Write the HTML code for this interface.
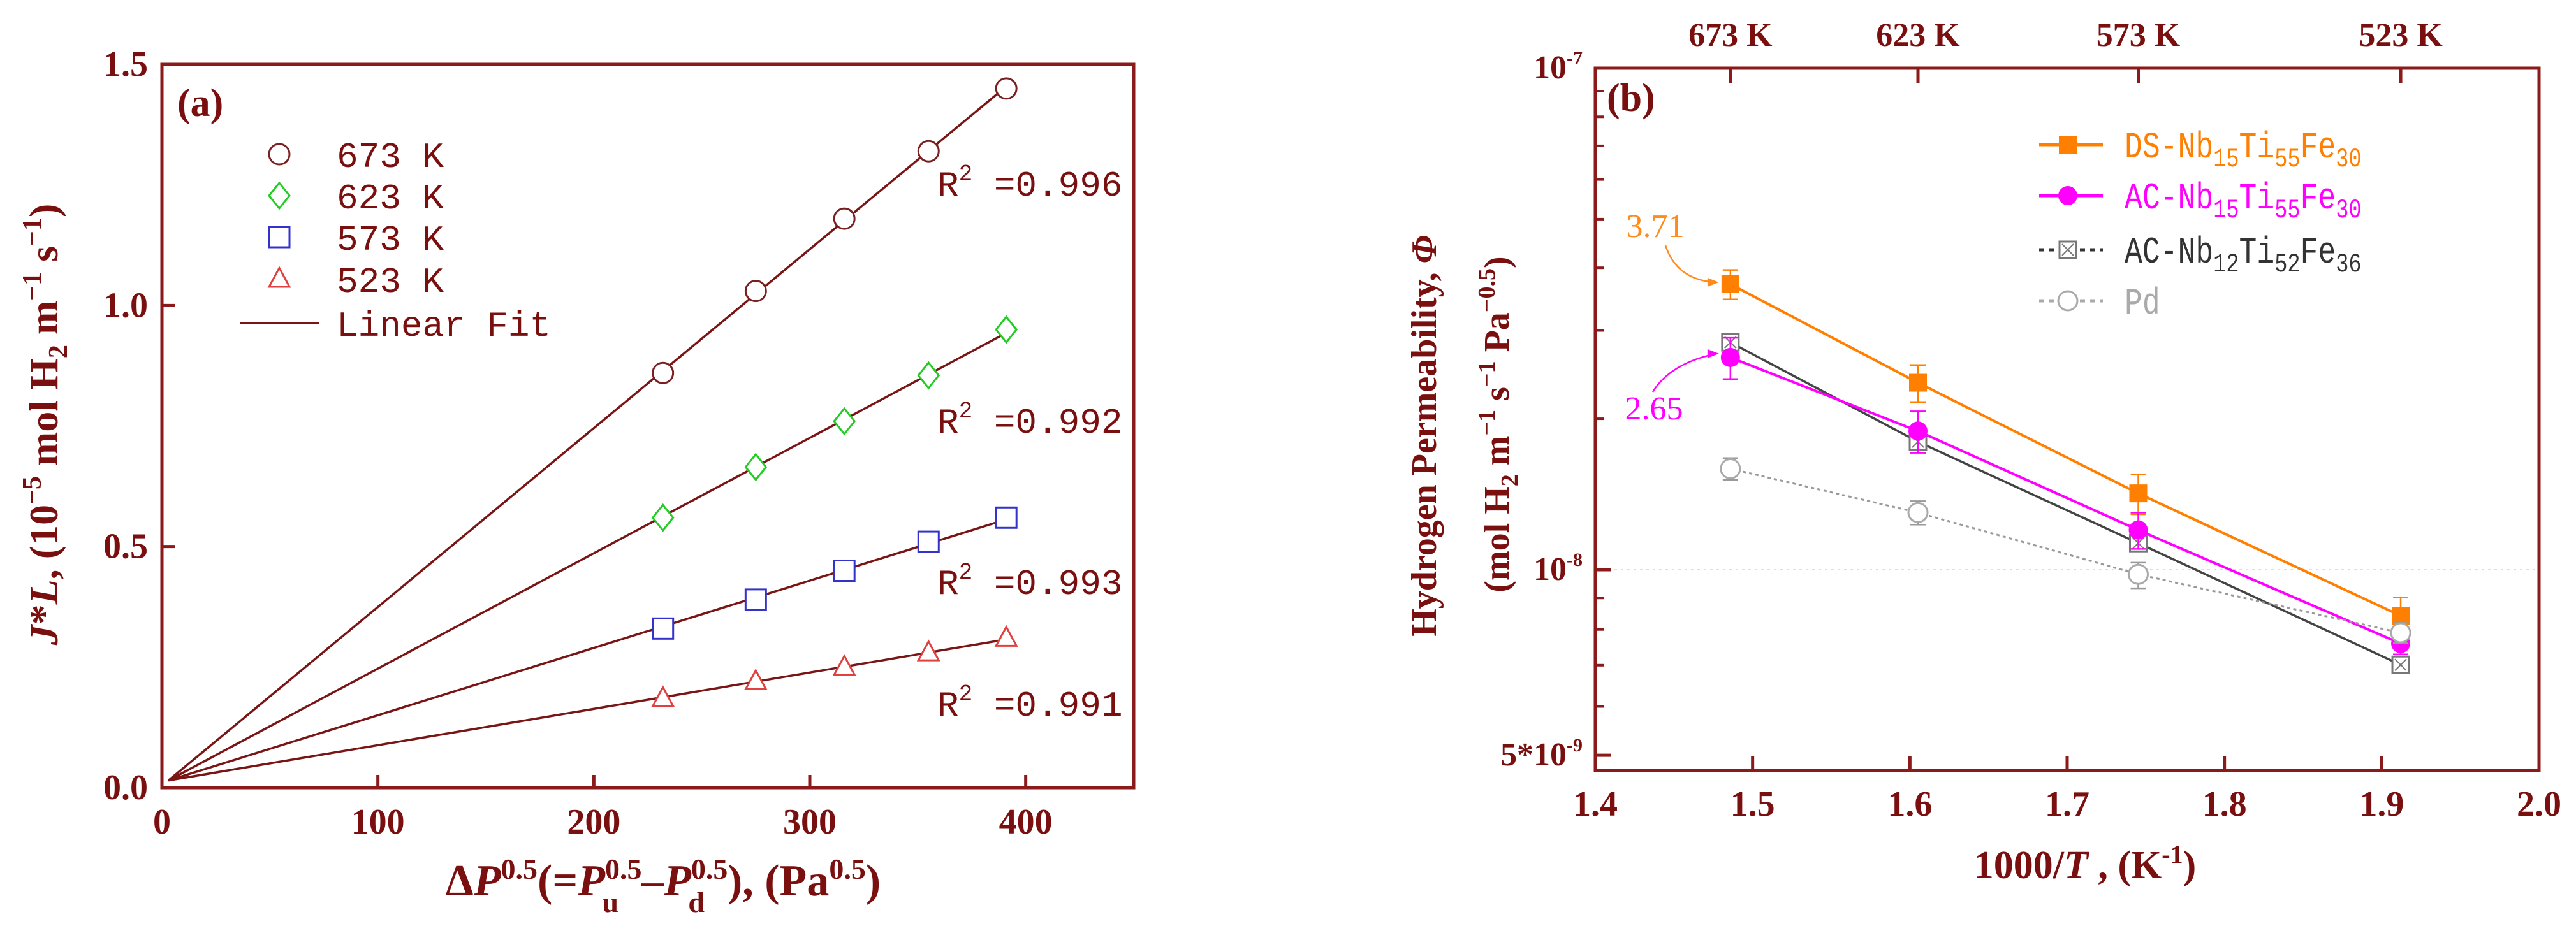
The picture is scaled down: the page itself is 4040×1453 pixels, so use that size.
<!DOCTYPE html>
<html><head><meta charset="utf-8"><style>
html,body{margin:0;padding:0;background:#fff;}
svg{display:block;}
text{font-family:"Liberation Serif",serif;}
.mono{font-family:"Liberation Mono",monospace;}
</style></head><body>
<svg id="fig" width="4040" height="1453" viewBox="0 0 4040 1453" xmlns="http://www.w3.org/2000/svg">
<g id="pa"></g>
<g id="pb"></g>
</svg>
<script>
// ===== Panel (a) data =====
const aXTicks = [0,100,200,300,400];
const aYTicks = [0.0,0.5,1.0,1.5];
const aYTickLabels = ["0.0","0.5","1.0","1.5"];
const aX = [232,275,316,355,391];
const a673 = [0.86,1.03,1.18,1.32,1.45];
const a623 = [0.56,0.665,0.76,0.855,0.95];
const a573 = [0.33,0.39,0.45,0.51,0.56];
const a523 = [0.185,0.22,0.25,0.28,0.31];
const aR2 = ["0.996","0.992","0.993","0.991"];
const aOrigin = [3,0.015];

// ===== Panel (b) data =====
const bXTicks = [1.4,1.5,1.6,1.7,1.8,1.9,2.0];
const bXTickLabels = ["1.4","1.5","1.6","1.7","1.8","1.9","2.0"];
const bTemps = [673,623,573,523];
const bTopLabels = ["673 K","623 K","573 K","523 K"];
const bDS = [3.71e-8,2.36e-8,1.42e-8,8.42e-9];
const bDSerr = [0.25e-8,0.2e-8,0.13e-8,0.6e-9];
const bAC15 = [2.65e-8,1.89e-8,1.20e-8,7.59e-9];
const bAC15err = [0.25e-8,0.18e-8,0.1e-8,0.3e-9];
const bAC12 = [2.84e-8,1.80e-8,1.13e-8,7.01e-9];
const bPd = [1.59e-8,1.30e-8,9.83e-9,7.90e-9];
const bPdErr = [0.08e-8,0.07e-8,0.05e-8,0.3e-9];

const NS="http://www.w3.org/2000/svg";
function mk(parent,tag,attrs,txt){const e=document.createElementNS(NS,tag);for(const k in attrs)e.setAttribute(k,attrs[k]);if(txt!==undefined)e.textContent=txt;parent.appendChild(e);return e;}
const AX="#8b1a1a", TX="#7a0f0f";

// ---------- Panel a ----------
const pa=document.getElementById('pa');
const aL=254,aR=1778,aT=101,aB=1236;
const ax=v=>aL+(v/450)*(aR-aL);
const ay=v=>aB-(v/1.5)*(aB-aT);
let r=mk(pa,'rect',{x:aL,y:aT,width:aR-aL,height:aB-aT,fill:'none',stroke:AX,'stroke-width':5});

aXTicks.forEach(t=>{
  let l=mk(pa,'line',{x1:ax(t),x2:ax(t),y1:aB,y2:aB-20,stroke:AX,'stroke-width':5});
  
  let tx=mk(pa,'text',{x:ax(t),y:aB+72,'text-anchor':'middle','font-size':56,'font-weight':'bold',fill:TX},String(t));
  
});
aYTicks.forEach((t,i)=>{
  let l=mk(pa,'line',{x1:aL,x2:aL+20,y1:ay(t),y2:ay(t),stroke:AX,'stroke-width':5});
  
  let tx=mk(pa,'text',{x:aL-22,y:ay(t)+18,'text-anchor':'end','font-size':56,'font-weight':'bold',fill:TX},aYTickLabels[i]);
  
});
let yt=mk(pa,'text',{x:0,y:0,transform:`translate(90,666) rotate(-90)`,'text-anchor':'middle','font-size':64,'font-weight':'bold',fill:TX});

yt.innerHTML='<tspan font-style="italic">J</tspan>*<tspan font-style="italic">L</tspan>, (10<tspan dy="-26" font-size="42">−5</tspan><tspan dy="26"> mol H</tspan><tspan dy="15" font-size="42">2</tspan><tspan dy="-15"> m</tspan><tspan dy="-26" font-size="42">−1</tspan><tspan dy="26"> s</tspan><tspan dy="-26" font-size="42">−1</tspan><tspan dy="26">)</tspan>';
let xt=mk(pa,'text',{x:1040,y:1405,'text-anchor':'middle','font-size':70,'font-weight':'bold',fill:TX});

xt.innerHTML='Δ<tspan font-style="italic">P</tspan><tspan dy="-26" font-size="46">0.5</tspan><tspan dy="26">(=</tspan><tspan font-style="italic">P</tspan><tspan dy="-26" font-size="46">0.5</tspan><tspan dx="-62" dy="52" font-size="46">u</tspan><tspan dx="36" dy="-26">–</tspan><tspan font-style="italic">P</tspan><tspan dy="-26" font-size="46">0.5</tspan><tspan dx="-62" dy="52" font-size="46">d</tspan><tspan dx="36" dy="-26">), (Pa</tspan><tspan dy="-26" font-size="46">0.5</tspan><tspan dy="26">)</tspan>';
let la=mk(pa,'text',{x:278,y:182,'font-size':62,'font-weight':'bold',fill:TX},'(a)');


function marker(g,type,cx,cy,s,stroke,fill){
  let e;
  if(type==='circle') e=mk(g,'circle',{cx,cy,r:s,fill:fill||'#fff',stroke,'stroke-width':3});
  else if(type==='diamond') e=mk(g,'polygon',{points:`${cx},${cy-s*1.25} ${cx+s},${cy} ${cx},${cy+s*1.25} ${cx-s},${cy}`,fill:fill||'#fff',stroke,'stroke-width':3});
  else if(type==='square') e=mk(g,'rect',{x:cx-s,y:cy-s,width:2*s,height:2*s,fill:fill||'#fff',stroke,'stroke-width':3});
  else e=mk(g,'polygon',{points:`${cx},${cy-s*1.1} ${cx+s},${cy+s*0.75} ${cx-s},${cy+s*0.75}`,fill:fill||'#fff',stroke,'stroke-width':3});
  return e;
}
const aSeries=[[a673,'circle','#7a2020','673 K'],[a623,'diamond','#22cc22','623 K'],[a573,'square','#3333cc','573 K'],[a523,'triangle','#e04040','523 K']];
const r2y=[287,659,912,1103];
aSeries.forEach(([ys,type,col,lab],si)=>{
  const g=mk(pa,'g',{});
  
  let num=0,den=0;aX.forEach((x,i)=>{num+=(x-aOrigin[0])*(ys[i]-aOrigin[1]);den+=(x-aOrigin[0])**2;});
  const k=num/den;const xe=aX[aX.length-1];
  let fl=mk(g,'line',{x1:ax(aOrigin[0]),y1:ay(aOrigin[1]),x2:ax(xe),y2:ay(aOrigin[1]+k*(xe-aOrigin[0])),stroke:'#7a1515','stroke-width':3.5});
  
  aX.forEach((x,i)=>{let m=marker(g,type,ax(x),ay(ys[i]),16,col);});
  let t=mk(pa,'text',{x:1470,y:r2y[si]+20,'font-size':56,fill:TX,class:'mono'});
  
  t.innerHTML='R<tspan dy="-24" font-size="36">2</tspan><tspan dy="24"> =0.'+aR2[si].slice(2)+'</tspan>';
  const ly=[242,307,372,438][si];
  let lm=marker(pa,type,438,ly,16,col);
  let lt=mk(pa,'text',{x:528,y:ly+20,'font-size':56,fill:TX,class:'mono'},lab);
  
});
let ll=mk(pa,'line',{x1:376,x2:500,y1:507,y2:507,stroke:'#7a1515','stroke-width':4});

let lt5=mk(pa,'text',{x:528,y:527,'font-size':56,fill:TX,class:'mono'},'Linear Fit');


// ---------- Panel b ----------
const pb=document.getElementById('pb');
const bL=2502,bR=3982,bT=107,bB=1209;
const bx=v=>bL+(v-1.4)/0.6*(bR-bL);
function by(v){const lg=Math.log10(v)+8;return lg>=0?894-lg*787:894-lg*967;}
const bXv=bTemps.map(T=>1000/T);
let gl=mk(pb,'line',{x1:bL,x2:bR,y1:by(1e-8),y2:by(1e-8),stroke:'#ddd','stroke-width':2,'stroke-dasharray':'4 6'});

let rb=mk(pb,'rect',{x:bL,y:bT,width:bR-bL,height:bB-bT,fill:'none',stroke:AX,'stroke-width':5});

bXTicks.forEach((t,i)=>{
  let l=mk(pb,'line',{x1:bx(t),x2:bx(t),y1:bB,y2:bB-22,stroke:AX,'stroke-width':5});
  
  let tx=mk(pb,'text',{x:bx(t),y:1280,'text-anchor':'middle','font-size':56,'font-weight':'bold',fill:TX},bXTickLabels[i]);
  
});
bXv.forEach((v,i)=>{
  let l=mk(pb,'line',{x1:bx(v),x2:bx(v),y1:bT,y2:bT+24,stroke:AX,'stroke-width':5});
  
  let tx=mk(pb,'text',{x:bx(v),y:72,'text-anchor':'middle','font-size':52,'font-weight':'bold',fill:TX},bTopLabels[i]);
  
});
[2,3,4,5,6,7,8,9].forEach(m=>{let l=mk(pb,'line',{x1:bL,x2:bL+14,y1:by(m*1e-8),y2:by(m*1e-8),stroke:AX,'stroke-width':4});});
[5,6,7,8,9].forEach(m=>{let l=mk(pb,'line',{x1:bL,x2:bL+14,y1:by(m*1e-9),y2:by(m*1e-9),stroke:AX,'stroke-width':4});});
[[1e-7,'10','-7'],[1e-8,'10','-8'],[5e-9,'5*10','-9']].forEach(([v,b,e])=>{
  let l=mk(pb,'line',{x1:bL,x2:bL+24,y1:by(v),y2:by(v),stroke:AX,'stroke-width':5});
  
  let tx=mk(pb,'text',{x:bL-20,y:by(v)+16,'text-anchor':'end','font-size':52,'font-weight':'bold',fill:TX});
  
  tx.innerHTML=b+'<tspan dy="-22" font-size="30">'+e+'</tspan>';
});
let yb1=mk(pb,'text',{x:0,y:0,transform:'translate(2252,684) rotate(-90)','text-anchor':'middle','font-size':56,'font-weight':'bold',fill:TX});

yb1.innerHTML='Hydrogen Permeability, <tspan font-style="italic">Φ</tspan>';
let yb2=mk(pb,'text',{x:0,y:0,transform:'translate(2366,666) rotate(-90)','text-anchor':'middle','font-size':56,'font-weight':'bold',fill:TX});

yb2.innerHTML='(mol H<tspan dy="14" font-size="38">2</tspan><tspan dy="-14"> m</tspan><tspan dy="-22" font-size="38">−1</tspan><tspan dy="22"> s</tspan><tspan dy="-22" font-size="38">−1</tspan><tspan dy="22"> Pa</tspan><tspan dy="-22" font-size="38">−0.5</tspan><tspan dy="22">)</tspan>';
let xbt=mk(pb,'text',{x:3270,y:1378,'text-anchor':'middle','font-size':62,'font-weight':'bold',fill:TX});

xbt.innerHTML='1000/<tspan font-style="italic">T</tspan> , (K<tspan dy="-24" font-size="40">-1</tspan><tspan dy="24">)</tspan>';
let lb=mk(pb,'text',{x:2520,y:174,'font-size':62,'font-weight':'bold',fill:TX},'(b)');


const bSeries=[
 {ys:bDS,err:bDSerr,col:'#ff7f00',type:'fsquare',dash:null,w:4,name:'ds-nb15ti55fe30'},
 {ys:bAC12,err:null,col:'#444',type:'xsquare',dash:null,w:3.5,name:'ac-nb12ti52fe36'},
 {ys:bAC15,err:bAC15err,col:'#ff00ff',type:'fcircle',dash:null,w:4,name:'ac-nb15ti55fe30'},
 {ys:bPd,err:bPdErr,col:'#999',type:'ocircle',dash:'5 5',w:3,name:'pd'}];
function bmarker(g,type,cx,cy,col){
  if(type==='fsquare') mk(g,'rect',{x:cx-14,y:cy-14,width:28,height:28,fill:col});
  else if(type==='fcircle') mk(g,'circle',{cx,cy,r:15,fill:col});
  else if(type==='ocircle') mk(g,'circle',{cx,cy,r:15,fill:'#fff',stroke:'#aaa','stroke-width':3});
  else {mk(g,'rect',{x:cx-13,y:cy-13,width:26,height:26,fill:'#fff',stroke:'#777','stroke-width':3});
        mk(g,'path',{d:`M${cx-9},${cy-9}L${cx+9},${cy+9}M${cx+9},${cy-9}L${cx-9},${cy+9}`,stroke:'#777','stroke-width':2});}
}
bSeries.forEach(s=>{
  const g=mk(pb,'g',{});
  
  const pts=bXv.map((x,i)=>bx(x)+','+by(s.ys[i])).join(' ');
  const a={points:pts,fill:'none',stroke:s.col,'stroke-width':s.w};if(s.dash)a['stroke-dasharray']=s.dash;
  let pl=mk(g,'polyline',a);
  bXv.forEach((x,i)=>{
    if(s.err){const y1=by(s.ys[i]+s.err[i]),y2=by(s.ys[i]-s.err[i]),cx=bx(x);
      let eb=mk(g,'path',{d:`M${cx},${y1}L${cx},${y2}M${cx-12},${y1}L${cx+12},${y1}M${cx-12},${y2}L${cx+12},${y2}`,stroke:s.col,'stroke-width':2.5,fill:'none'});
      }
    const mg=mk(g,'g',{});
    bmarker(mg,s.type,bx(x),by(s.ys[i]),s.col);
  });
});
const legB=[['#ff7f00','fsquare',null,'DS-Nb','15','Ti','55','Fe','30',227],['#ff00ff','fcircle',null,'AC-Nb','15','Ti','55','Fe','30',307],['#333','xsquare','8 8','AC-Nb','12','Ti','52','Fe','36',392],['#aaa','ocircle','8 8','Pd','','','','','',472]];
legB.forEach(e=>{
  const g=mk(pb,'g',{});
  const la={x1:3198,x2:3298,y1:e[9],y2:e[9],stroke:e[0],'stroke-width':5};if(e[2])la['stroke-dasharray']=e[2];
  mk(g,'line',la);bmarker(g,e[1],3243,e[9],e[0]);
  const t=mk(g,'text',{x:3332,y:e[9]+20,'font-size':58,fill:e[0],class:'mono',transform:`translate(${3332*0.2},0) scale(0.8,1)`});
  t.innerHTML=e[3]+(e[4]?'<tspan dy="14" font-size="42">'+e[4]+'</tspan><tspan dy="-14">'+e[5]+'</tspan><tspan dy="14" font-size="42">'+e[6]+'</tspan><tspan dy="-14">'+e[7]+'</tspan><tspan dy="14" font-size="42">'+e[8]+'</tspan>':'');
});
let an1=mk(pb,'text',{x:2596,y:372,'text-anchor':'middle','font-size':52,fill:'#ff8c1a'},(bDS[0]*1e8).toFixed(2));

let ar1=mk(pb,'path',{d:`M2612,385 Q2630,440 ${bx(bXv[0])-22},${by(bDS[0])-3}`,fill:'none',stroke:'#ff8c1a','stroke-width':2.5});

mk(pb,'polygon',{points:`${bx(bXv[0])-18},${by(bDS[0])-3} ${bx(bXv[0])-36},${by(bDS[0])-10} ${bx(bXv[0])-36},${by(bDS[0])+4}`,fill:'#ff8c1a'});
let an2=mk(pb,'text',{x:2594,y:658,'text-anchor':'middle','font-size':52,fill:'#ff00ff'},(bAC15[0]*1e8).toFixed(2));

let ar2=mk(pb,'path',{d:`M2592,615 Q2620,570 ${bx(bXv[0])-22},${by(bAC15[0])-6}`,fill:'none',stroke:'#ff00ff','stroke-width':2.5});

mk(pb,'polygon',{points:`${bx(bXv[0])-18},${by(bAC15[0])-6} ${bx(bXv[0])-36},${by(bAC15[0])-13} ${bx(bXv[0])-36},${by(bAC15[0])+1}`,fill:'#ff00ff'});
</script>
</body></html>
